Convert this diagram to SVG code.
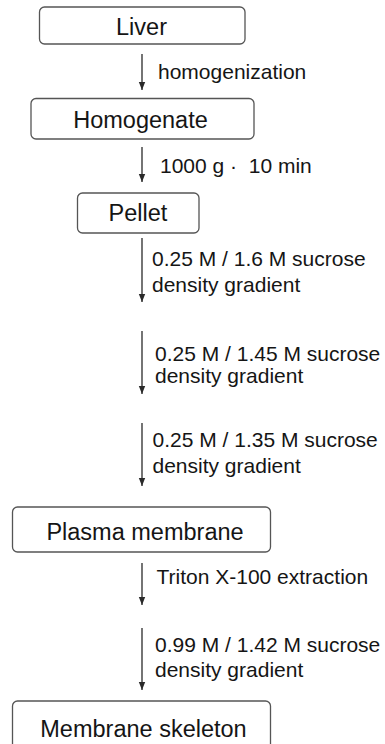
<svg xmlns="http://www.w3.org/2000/svg" width="385" height="744" viewBox="0 0 385 744">
  <style>
    .box { fill: #ffffff; stroke: #555555; stroke-width: 1.3; }
    .node-text { font-family: "Liberation Sans", Arial, sans-serif; font-size: 23.5px; fill: #151515; text-anchor: middle; }
    .label { font-family: "Liberation Sans", Arial, sans-serif; font-size: 21px; fill: #151515; }
    .conn { stroke: #2a2a2a; stroke-width: 1.3; fill: none; marker-end: url(#arrow); }
  </style>
  <defs>
    <marker id="arrow" viewBox="0 0 8 8" refX="8" refY="4" markerWidth="8" markerHeight="8" markerUnits="userSpaceOnUse" orient="auto">
      <path d="M0,0.8 L8,4 L0,7.2 Z" fill="#2a2a2a"/>
    </marker>
  </defs>
  <rect width="385" height="744" fill="#ffffff"/>

  <g id="liver">
    <rect class="box" x="39.5" y="7" width="205.5" height="37" rx="5"/>
    <text class="node-text" x="141.5" y="35">Liver</text>
  </g>
  <g id="homogenate">
    <rect class="box" x="31" y="98.5" width="223" height="40.5" rx="5"/>
    <text class="node-text" x="140.5" y="128">Homogenate</text>
  </g>
  <g id="pellet">
    <rect class="box" x="77.5" y="193" width="121.5" height="40" rx="5"/>
    <text class="node-text" x="138" y="220.5">Pellet</text>
  </g>
  <g id="plasma-membrane">
    <rect class="box" x="12.5" y="507" width="258" height="45" rx="5"/>
    <text class="node-text" x="145" y="540">Plasma membrane</text>
  </g>
  <g id="membrane-skeleton">
    <rect class="box" x="12.5" y="701" width="258" height="50" rx="5"/>
    <text class="node-text" x="143.5" y="736.5">Membrane skeleton</text>
  </g>

  <g id="connectors">
    <line class="conn" x1="142" y1="54" x2="142" y2="90"/>
    <line class="conn" x1="142" y1="147" x2="142" y2="182"/>
    <line class="conn" x1="142" y1="238" x2="142" y2="302"/>
    <line class="conn" x1="142" y1="331" x2="142" y2="394"/>
    <line class="conn" x1="142" y1="423" x2="142" y2="486"/>
    <line class="conn" x1="142" y1="563" x2="142" y2="605"/>
    <line class="conn" x1="142" y1="628" x2="142" y2="690"/>
  </g>

  <g id="labels">
    <text class="label" x="158" y="79">homogenization</text>
    <text class="label" x="160" y="173">1000 g ·&#160; 10 min</text>
    <text class="label" x="152" y="265.5">0.25 M / 1.6 M sucrose</text>
    <text class="label" x="152" y="291.5">density gradient</text>
    <text class="label" x="155" y="360.5">0.25 M / 1.45 M sucrose</text>
    <text class="label" x="155" y="382.5">density gradient</text>
    <text class="label" x="152.5" y="446.5">0.25 M / 1.35 M sucrose</text>
    <text class="label" x="152.5" y="473">density gradient</text>
    <text class="label" x="156.5" y="584">Triton X-100 extraction</text>
    <text class="label" x="155" y="652">0.99 M / 1.42 M sucrose</text>
    <text class="label" x="155" y="677">density gradient</text>
  </g>
</svg>
